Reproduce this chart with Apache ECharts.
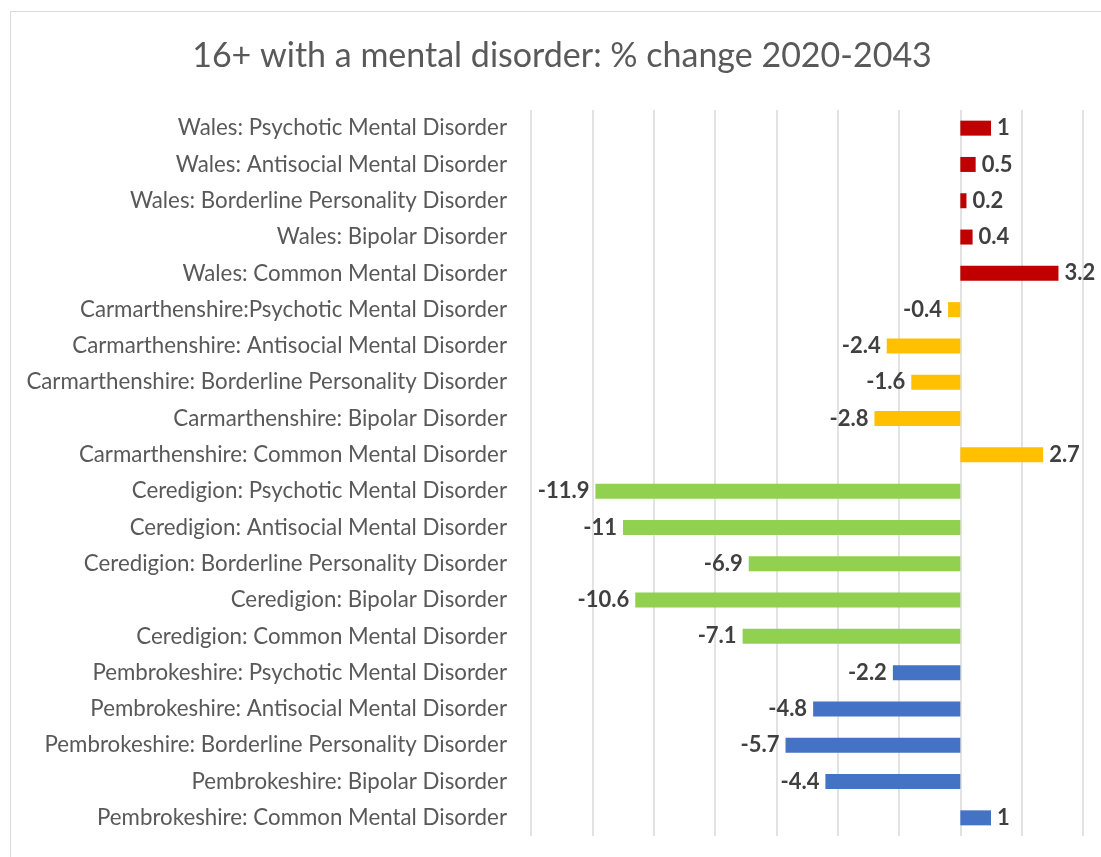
<!DOCTYPE html>
<html>
<head>
<meta charset="utf-8">
<script src="https://cdn.jsdelivr.net/npm/echarts@6/dist/echarts.min.js"></script>
<style>
  html, body { margin: 0; padding: 0; background: #fff; }
  #frame {
    position: absolute; left: 10px; top: 11px; width: 1100px; height: 860px;
    border-left: 1px solid #d9d9d9; border-top: 1px solid #d9d9d9;
  }
  #chart { position: absolute; left: 0; top: 0; width: 1101px; height: 857px; }
</style>
</head>
<body>
<div id="frame"></div>
<div id="chart"></div>
<script>
// bottom to top, same order as the y axis
const categories = [
  'Pembrokeshire: Common Mental Disorder',
  'Pembrokeshire: Bipolar Disorder',
  'Pembrokeshire: Borderline Personality Disorder',
  'Pembrokeshire: Antisocial Mental Disorder',
  'Pembrokeshire: Psychotic Mental Disorder',
  'Ceredigion: Common Mental Disorder',
  'Ceredigion: Bipolar Disorder',
  'Ceredigion: Borderline Personality Disorder',
  'Ceredigion: Antisocial Mental Disorder',
  'Ceredigion: Psychotic Mental Disorder',
  'Carmarthenshire: Common Mental Disorder',
  'Carmarthenshire: Bipolar Disorder',
  'Carmarthenshire: Borderline Personality Disorder',
  'Carmarthenshire: Antisocial Mental Disorder',
  'Carmarthenshire:Psychotic Mental Disorder',
  'Wales: Common Mental Disorder',
  'Wales: Bipolar Disorder',
  'Wales: Borderline Personality Disorder',
  'Wales: Antisocial Mental Disorder',
  'Wales: Psychotic Mental Disorder'
]
const values = [
  1, -4.4, -5.7, -4.8, -2.2,
  -7.1, -10.6, -6.9, -11, -11.9,
  2.7, -2.8, -1.6, -2.4, -0.4,
  3.2, 0.4, 0.2, 0.5, 1
]
const groups = [
  'Pembrokeshire', 'Pembrokeshire', 'Pembrokeshire', 'Pembrokeshire', 'Pembrokeshire',
  'Ceredigion', 'Ceredigion', 'Ceredigion', 'Ceredigion', 'Ceredigion',
  'Carmarthenshire', 'Carmarthenshire', 'Carmarthenshire', 'Carmarthenshire', 'Carmarthenshire',
  'Wales', 'Wales', 'Wales', 'Wales', 'Wales'
]

const groupColor = {
  Pembrokeshire: '#4472C4',
  Ceredigion: '#92D050',
  Carmarthenshire: '#FFC000',
  Wales: '#C00000'
}

const chart = echarts.init(document.getElementById('chart'))

chart.setOption({
  animation: false,
  textStyle: { fontFamily: 'Lato' },
  title: {
    text: '16+ with a mental disorder: % change 2020-2043',
    left: 557,
    top: 34,
    textAlign: 'center',
    textStyle: { fontSize: 34, fontWeight: 'normal', color: '#595959', fontFamily: 'Lato' }
  },
  grid: { left: 531, right: 18, top: 110, bottom: 21, containLabel: false },
  xAxis: {
    type: 'value',
    min: -14,
    max: 4,
    interval: 2,
    axisLabel: { show: false },
    axisLine: { show: false },
    axisTick: { show: false },
    splitLine: { lineStyle: { color: '#d9d9d9', width: 1.5 } }
  },
  yAxis: {
    type: 'category',
    data: categories,
    axisLine: { show: false },
    axisTick: { show: false },
    axisLabel: { margin: 24, fontSize: 22.3, color: '#595959', fontFamily: 'Lato' }
  },
  series: [{
    type: 'bar',
    barWidth: 15,
    data: values.map((v, i) => ({
      value: v,
      itemStyle: { color: groupColor[groups[i]] },
      label: { position: v < 0 ? 'left' : 'right' }
    })),
    label: {
      show: true,
      distance: 6,
      fontSize: 22,
      fontWeight: 'bold',
      color: '#404040',
      fontFamily: 'Lato'
    }
  }]
})
</script>
</body>
</html>
